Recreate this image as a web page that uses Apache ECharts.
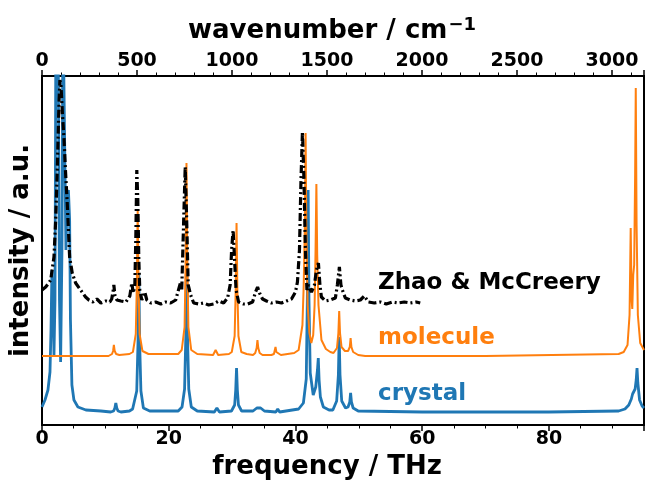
<!DOCTYPE html>
<html>
<head>
<meta charset="utf-8">
<script src="https://cdn.jsdelivr.net/npm/echarts@6/dist/echarts.min.js"></script>
<style>
html,body{margin:0;padding:0;background:#fff;}
#chart{width:647px;height:486px;}
</style>
</head>
<body>
<div id="chart"></div>
<script>
// ---- data (frequency in THz, intensity in arbitrary units, curves already offset) ----
const freqMax = 95;
const wavenumberPerTHz = 33.35641;
const intensityMax = 349;

const crystal = [
  [0,18],[0.47,25],[0.94,35],[1.26,53],[1.42,95],[1.57,155],[1.73,125],[1.89,70],[2.05,125],
  [2.20,420],[2.52,420],[2.76,125],[2.94,63],[3.15,175],[3.31,420],[3.62,420],[3.78,175],
  [3.98,230],[4.17,235],[4.36,205],[4.49,105],[4.72,40],[5.04,25],[5.67,18],[6.93,15],[9.29,14],
  [10.85,13],[11.3,14],[11.5,17],[11.65,22],[11.8,17],[12.0,14],[12.45,13],
  [13.8,14],[14.3,16],[14.6,18],[14.95,34],[15.15,82],[15.28,150],[15.41,82],[15.61,34],[16.0,17],[17,14],
  [21.5,14],[22.1,18],[22.5,36],[22.7,89],[22.83,165],[22.96,89],[23.16,36],[23.56,18],[24.5,14],
  [27.2,13],[27.6,17],[28.0,13],
  [29.9,14],[30.4,20],[30.57,35],[30.7,57],[30.83,35],[31.0,20],[31.5,14],
  [33.3,14],[33.9,17],[34.2,19],[34.5,17],[35.1,14],
  [36.9,13],[37.2,16],[37.5,13],
  [40.5,16],[41.25,22],[41.7,46],[41.87,124],[42.0,235],[42.13,126],[42.33,52],[42.8,30],[43.2,38],
  [43.47,55],[43.6,67],[43.73,45],[43.93,28],[44.4,18],[45.3,15],
  [45.9,15],[46.5,24],[46.77,50],[46.9,88],[47.03,50],[47.3,24],[47.9,17],
  [48.3,18],[48.57,23],[48.7,32],[48.83,23],[49.1,17],[49.9,14],
  [60,13],[80,13],[91.0,14],
  [92.0,16],[92.6,20],[93.0,26],[93.2,31],[93.4,30],[93.6,36],[93.77,45],[93.9,57],[94.03,42],
  [94.3,25],[94.7,19],[95,17]
];

const molecule = [
  [0,69],[10.5,69],
  [10.6,70],[11.05,71],[11.22,74],[11.34,80],[11.47,74],[11.7,71],[12.2,70],
  [13.8,71],[14.35,73],[14.8,91],[14.97,142],[15.1,215],[15.23,142],[15.4,91],[15.85,74],[16.8,71],
  [21.5,71],[22.05,75],[22.5,98],[22.67,165],[22.8,262],[22.93,165],[23.1,98],[23.55,75],[24.5,71],
  [27.0,70],[27.4,75],[27.8,70],
  [29.5,71],[29.95,73],[30.4,89],[30.57,136],[30.7,202],[30.83,136],[31.0,89],[31.45,73],[32.3,71],
  [33.3,70],[33.65,72],[33.87,77],[34.0,85],[34.13,77],[34.35,72],[34.8,70],
  [36.2,70],[36.6,71],[36.72,73],[36.85,78],[36.98,73],[37.2,71],[37.7,70],
  [39.8,72],[40.5,75],[41.1,100],[41.3,140],[41.48,200],[41.6,292],[41.72,190],[41.92,120],
  [42.2,92],[42.5,82],[42.8,90],[43.02,120],[43.17,175],[43.3,241],[43.43,170],[43.63,120],
  [44.1,85],[44.8,76],[45.5,73],
  [46.0,72],[46.55,77],[46.77,92],[46.9,114],[47.03,92],[47.27,78],[47.8,74],
  [48.3,74],[48.57,78],[48.7,87],[48.83,78],[49.1,73],[49.9,70],[51,69],
  [70,69],[91.0,71],
  [91.8,73],[92.4,80],[92.72,110],[92.9,197],[93.05,125],[93.15,116],[93.3,150],[93.45,160],
  [93.6,250],[93.7,337],[93.83,200],[94.03,110],[94.4,82],[95,75]
];

const zhao = [
  [0,135],[0.58,138],[0.94,141],[1.37,145],[1.89,168],[2.16,205],[2.41,255],[2.68,322],[2.83,345],
  [2.99,340],[3.23,310],[3.46,288],[3.70,255],[3.98,222],[4.36,168],[4.77,152],[5.31,142],[6.09,135],
  [6.88,128],[7.4,125],[8.03,123],[8.66,126],[9.29,122],[10.08,124],[10.71,123],
  [11.0,126],[11.2,133],[11.34,140],[11.5,130],[11.8,125],
  [12.44,124],[13.23,123],[13.86,129],[14.17,142],[14.4,132],[14.65,140],[14.8,185],[14.96,255],
  [15.12,225],[15.28,165],[15.43,135],[15.75,125],[16.22,133],[16.54,125],[17.17,122],[17.95,123],
  [18.74,121],[19.53,123],[20.31,122],[21.1,125],[21.84,142],[22.05,135],[22.36,205],[22.6,258],
  [22.83,205],[23.07,140],[23.46,130],[23.94,122],[24.72,121],[25.51,122],[26.3,120],[27.09,121],
  [27.87,124],[28.66,122],[29.29,127],[29.69,140],[29.92,175],[30.16,195],[30.39,165],[30.63,135],
  [31.02,123],[31.81,121],[32.44,121],[33.23,123],[33.7,133],[34.02,138],[34.33,132],[34.8,126],
  [35.43,124],[36.22,122],[37.0,123],[37.8,122],[38.58,124],[39.37,126],[40.0,133],[40.31,143],
  [40.63,175],[40.87,245],[41.1,293],[41.34,245],[41.57,175],[41.81,135],[42.05,140],[42.52,133],
  [42.99,140],[43.31,155],[43.62,162],[43.86,140],[44.09,128],[44.72,124],[45.51,125],[46.3,127],
  [46.61,140],[46.93,158],[47.17,140],[47.4,135],[47.87,127],[48.66,125],[49.45,124],[50.24,125],
  [50.87,129],[51.5,123],[52.44,122],[53.39,123],[54.33,121],[55.28,123],[56.22,122],[57.17,123],
  [58.11,122],[59.06,123],[59.69,122]
];

const seriesNames = ['crystal', 'molecule', 'Zhao & McCreery'];
const seriesColors = ['#1f77b4', '#ff7f0e', '#000000'];

// ---- chart ----
const FONT = 'DejaVu Sans';
const chart = echarts.init(document.getElementById('chart'), null, {renderer: 'canvas'});

const tickLabelStyle = {color: '#000', fontFamily: FONT, fontWeight: 'bold', fontSize: 19};
const nameStyle = {color: '#000', fontFamily: FONT, fontWeight: 'bold', fontSize: 26};

chart.setOption({
  animation: false,
  backgroundColor: '#fff',
  grid: {left: 41, right: 3, top: 76, bottom: 61, show: true, borderColor: '#000', borderWidth: 2, containLabel: false},
  xAxis: [
    {
      type: 'value', position: 'bottom', min: 0, max: freqMax, interval: 20,
      name: 'frequency / THz', nameLocation: 'middle', nameGap: 28,
      nameTextStyle: Object.assign({padding: [0, 32, 0, 0]}, nameStyle),
      axisLine: {show: true, lineStyle: {color: '#000', width: 2}},
      axisTick: {show: true, inside: false, length: 6, lineStyle: {color: '#000', width: 1.5}},
      minorTick: {show: true, splitNumber: 4, length: 3.5, lineStyle: {color: '#000', width: 1}},
      axisLabel: Object.assign({margin: 5, formatter: v => (v % 20 === 0 ? String(v) : '')}, tickLabelStyle),
      splitLine: {show: false}, minorSplitLine: {show: false}
    },
    {
      type: 'value', position: 'top', min: 0, max: freqMax * wavenumberPerTHz, interval: 500,
      name: 'wavenumber / cm{sup|\u22121}', nameLocation: 'middle', nameGap: 30,
      nameTextStyle: Object.assign({padding: [0, 22, 0, 0], rich: {
        sup: {fontFamily: FONT, fontWeight: 'bold', fontSize: 18, color: '#000', verticalAlign: 'top', padding: [0, 0, 12, 1]}
      }}, nameStyle),
      axisLine: {show: true, lineStyle: {color: '#000', width: 2}},
      axisTick: {show: true, inside: false, length: 6, lineStyle: {color: '#000', width: 1.5}},
      minorTick: {show: true, splitNumber: 5, length: 3.5, lineStyle: {color: '#000', width: 1}},
      axisLabel: Object.assign({margin: 5, formatter: v => (v % 500 === 0 ? String(v) : '')}, tickLabelStyle),
      splitLine: {show: false}, minorSplitLine: {show: false}
    }
  ],
  yAxis: {
    type: 'value', min: 0, max: intensityMax,
    name: 'intensity / a.u.', nameLocation: 'middle', nameGap: 8, nameTextStyle: nameStyle,
    axisLine: {show: true, lineStyle: {color: '#000', width: 2}},
    axisTick: {show: false}, axisLabel: {show: false}, splitLine: {show: false}
  },
  series: [
    {name: seriesNames[0], type: 'line', xAxisIndex: 0, data: crystal, showSymbol: false, symbol: 'none',
     clip: true, z: 2, lineStyle: {color: seriesColors[0], width: 2.8}},
    {name: seriesNames[1], type: 'line', xAxisIndex: 0, data: molecule, showSymbol: false, symbol: 'none',
     clip: true, z: 3, lineStyle: {color: seriesColors[1], width: 2}},
    {name: seriesNames[2], type: 'line', xAxisIndex: 0, data: zhao, showSymbol: false, symbol: 'none',
     clip: true, z: 4, lineStyle: {color: seriesColors[2], width: 3.2, type: [8, 3, 2, 3]}}
  ],
  graphic: [
    {type: 'text', x: 378, y: 283, z: 10, style: {text: seriesNames[2], fill: seriesColors[2], font: 'bold 23px "DejaVu Sans"', textVerticalAlign: 'middle'}},
    {type: 'text', x: 378, y: 338, z: 10, style: {text: seriesNames[1], fill: seriesColors[1], font: 'bold 23px "DejaVu Sans"', textVerticalAlign: 'middle'}},
    {type: 'text', x: 378, y: 394, z: 10, style: {text: seriesNames[0], fill: seriesColors[0], font: 'bold 23px "DejaVu Sans"', textVerticalAlign: 'middle'}}
  ]
});
</script>
</body>
</html>
